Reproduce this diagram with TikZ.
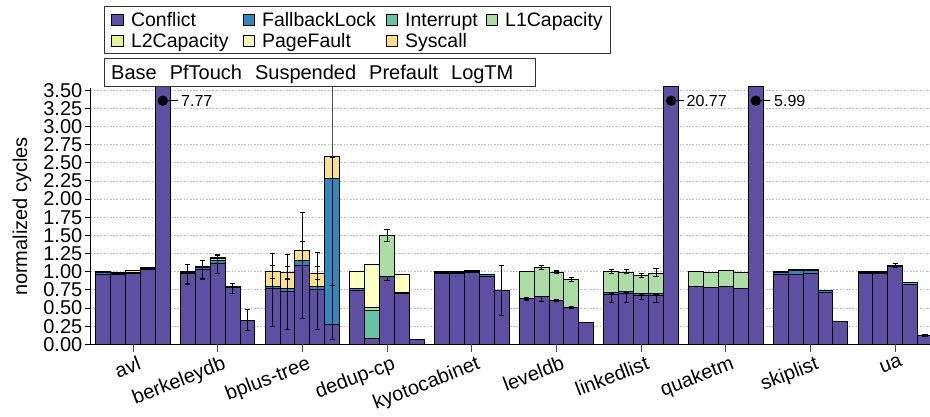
\documentclass[tikz,border=0pt]{standalone}
\usepackage{fontspec}
\setmainfont{Liberation Sans}
\definecolor{cC}{HTML}{5E4FA2}
\definecolor{cF}{HTML}{3288BD}
\definecolor{cI}{HTML}{66C2A5}
\definecolor{cLa}{HTML}{ABDDA4}
\definecolor{cLb}{HTML}{E6F598}
\definecolor{cP}{HTML}{FFFFBF}
\definecolor{cS}{HTML}{FEE08B}
\newcommand\gbar[3]{%
  \pgfmathsetmacro\bxl{95.7+84.7*#1+14.9*#2}%
  \pgfmathsetmacro\bxr{\bxl+14.9}%
  \gdef\stkprev{0}%
  \foreach \bcl/\btp in {#3}{%
    \filldraw[seg,fill=\bcl] (\bxl,\stkprev) rectangle (\bxr,\btp);
    \xdef\stkprev{\btp}%
  }%
}
\newcommand\errb[4]{%
  \pgfmathsetmacro\ex{95.7+84.7*#1+14.9*#2+7.45}%
  \draw[errst] (\ex,#3) -- (\ex,#4) (\ex-2.6,#3) -- (\ex+2.6,#3) (\ex-2.6,#4) -- (\ex+2.6,#4);
}
\begin{document}
\begin{tikzpicture}[x=1pt,y=1pt,font=\fontsize{20}{22}\selectfont,
  seg/.style={draw=black,line width=0.9pt},
  errst/.style={draw=black,line width=1.1pt},
  gridline/.style={gray!55,line width=0.9pt,dash pattern=on 1.6pt off 1.6pt},
  lgbox/.style={draw=black!80,line width=0.9pt},
  lgsq/.style={draw=black,line width=0.8pt},
  lgtxt/.style={anchor=base west,inner sep=0pt},
  valtxt/.style={anchor=west,inner sep=0pt,font=\fontsize{16}{18}\selectfont}]
\clip (0,0) rectangle (930,416);
\fill[white] (0,0) rectangle (930,416);

\begin{scope}[yshift=71.7pt,y=72.6pt]
  \foreach \v in {0.25,0.5,0.75,1,1.25,1.5,1.75,2,2.25,2.5,2.75,3,3.25,3.5}
    \draw[gridline] (90.7,\v) -- (930,\v);

  % avl
  \gbar{0}{0}{cC/0.965,cF/0.985,cS/1.0}
  \gbar{0}{1}{cC/0.965,cF/0.98,cS/0.995}
  \gbar{0}{2}{cC/0.975,cF/0.995,cS/1.015}
  \gbar{0}{3}{cC/1.025,cF/1.04,cS/1.06}
  \gbar{0}{4}{cC/3.55}
  % berkeleydb
  \gbar{1}{0}{cC/0.97,cF/0.99,cS/1.0} \errb{1}{0}{0.83}{1.10}
  \gbar{1}{1}{cC/1.03,cF/1.06,cS/1.07} \errb{1}{1}{0.90}{1.15}
  \gbar{1}{2}{cC/1.115,cF/1.15,cI/1.16,cLa/1.185,cS/1.19} \errb{1}{2}{0.98}{1.23}
  \gbar{1}{3}{cC/0.78,cF/0.79} \errb{1}{3}{0.70}{0.84}
  \gbar{1}{4}{cC/0.335} \errb{1}{4}{0.19}{0.48}
  % bplus-tree
  \gbar{2}{0}{cC/0.766,cF/0.80,cS/1.00} \errb{2}{0}{0.24}{1.09} \errb{2}{0}{0.91}{1.25}
  \gbar{2}{1}{cC/0.73,cF/0.775,cS/0.986} \errb{2}{1}{0.21}{1.07} \errb{2}{1}{0.90}{1.24}
  \gbar{2}{2}{cC/1.08,cF/1.15,cS/1.29} \errb{2}{2}{0.35}{1.82} \errb{2}{2}{1.15}{1.41}
  \gbar{2}{3}{cC/0.75,cF/0.79,cS/0.98} \errb{2}{3}{0.21}{1.07} \errb{2}{3}{0.89}{1.27}
  \gbar{2}{4}{cC/0.28,cF/2.28,cS/2.59} \errb{2}{4}{0.07}{0.81} \errb{2}{4}{0.81}{2.58}
  \pgfmathsetmacro\ex{95.7+84.7*2+14.9*4+7.45}
  \draw[black!70,line width=1pt] (\ex,2.58) -- (\ex,3.55);
  % dedup-cp
  \gbar{3}{0}{cC/0.74,cF/0.775,cP/1.00}
  \gbar{3}{1}{cC/0.083,cI/0.465,cLa/0.51,cP/1.106}
  \gbar{3}{2}{cC/0.93,cLa/1.50} \errb{3}{2}{1.41}{1.58} \errb{3}{2}{0.88}{0.93}
  \gbar{3}{3}{cC/0.705,cF/0.715,cP/0.965}
  \gbar{3}{4}{cC/0.065}
  % kyotocabinet
  \gbar{4}{0}{cC/0.97,cF/0.99,cS/1.0}
  \gbar{4}{1}{cC/0.975,cF/0.99,cS/1.0}
  \gbar{4}{2}{cC/0.99,cF/1.01,cS/1.02}
  \gbar{4}{3}{cC/0.94,cF/0.96,cS/0.968}
  \gbar{4}{4}{cC/0.74} \errb{4}{4}{0.40}{1.08}
  % leveldb
  \gbar{5}{0}{cC/0.634,cLa/1.0} \errb{5}{0}{0.61}{0.64}
  \gbar{5}{1}{cC/0.656,cLa/1.055} \errb{5}{1}{0.59}{0.66} \errb{5}{1}{1.03}{1.08}
  \gbar{5}{2}{cC/0.61,cLa/0.99} \errb{5}{2}{0.59}{0.62} \errb{5}{2}{0.97}{1.01}
  \gbar{5}{3}{cC/0.51,cLa/0.90} \errb{5}{3}{0.49}{0.52} \errb{5}{3}{0.87}{0.92}
  \gbar{5}{4}{cC/0.30}
  % linkedlist
  \gbar{6}{0}{cC/0.68,cF/0.716,cLa/1.0} \errb{6}{0}{0.58}{0.70} \errb{6}{0}{0.97}{1.03}
  \gbar{6}{1}{cC/0.70,cF/0.734,cLa/0.995} \errb{6}{1}{0.57}{0.72} \errb{6}{1}{0.97}{1.03}
  \gbar{6}{2}{cC/0.67,cF/0.70,cLa/0.945} \errb{6}{2}{0.62}{0.69} \errb{6}{2}{0.92}{0.97}
  \gbar{6}{3}{cC/0.67,cF/0.70,cLa/0.97} \errb{6}{3}{0.57}{0.69} \errb{6}{3}{0.94}{1.04}
  \gbar{6}{4}{cC/3.55}
  % quaketm
  \gbar{7}{0}{cC/0.794,cLa/1.0}
  \gbar{7}{1}{cC/0.785,cLa/0.99}
  \gbar{7}{2}{cC/0.80,cLa/1.014}
  \gbar{7}{3}{cC/0.77,cLa/0.987}
  \gbar{7}{4}{cC/3.55}
  % skiplist
  \gbar{8}{0}{cC/0.96,cF/0.99,cS/1.0}
  \gbar{8}{1}{cC/0.964,cF/1.02,cS/1.03}
  \gbar{8}{2}{cC/0.97,cF/1.02,cS/1.03}
  \gbar{8}{3}{cC/0.72,cF/0.735,cS/0.744}
  \gbar{8}{4}{cC/0.317}
  % ua
  \gbar{9}{0}{cC/0.975,cI/0.995,cS/1.0}
  \gbar{9}{1}{cC/0.97,cI/0.995,cS/1.0}
  \gbar{9}{2}{cC/1.07,cI/1.085,cS/1.09} \errb{9}{2}{1.06}{1.11}
  \gbar{9}{3}{cC/0.83,cI/0.85,cS/0.854}
  \gbar{9}{4}{cC/0.118} \errb{9}{4}{0.11}{0.13}

  % value annotations
  \fill (162.8,3.355) circle (5.2pt); \draw[line width=1pt] (162.8,3.355) -- (178,3.355);
  \node[valtxt] (v1) at (181,3.355) {7.77};
  \fill (671.1,3.355) circle (5.2pt); \draw[line width=1pt] (671.1,3.355) -- (684,3.355);
  \node[valtxt] (v2) at (686.5,3.355) {20.77};
  \fill (755.8,3.355) circle (5.2pt); \draw[line width=1pt] (755.8,3.355) -- (770,3.355);
  \node[valtxt] (v3) at (774,3.355) {5.99};

  % axes
  \draw[line width=1.3pt] (90.7,3.53) -- (90.7,0) -- (930,0);
  \foreach \v/\l in {0/0.00,0.25/0.25,0.5/0.50,0.75/0.75,1/1.00,1.25/1.25,1.5/1.50,1.75/1.75,2/2.00,2.25/2.25,2.5/2.50,2.75/2.75,3/3.00,3.25/3.25,3.5/3.50}{
    \draw[line width=1pt] (85,\v) -- (90.7,\v);
    \node[anchor=east,inner sep=0pt] (yl\l) at (82.5,\v) {\l};
  }
  \foreach \g/\nm in {0/avl,1/berkeleydb,2/bplus-tree,3/dedup-cp,4/kyotocabinet,5/leveldb,6/linkedlist,7/quaketm,8/skiplist,9/ua}{
    \pgfmathsetmacro\tx{133+84.7*\g}
    \draw[black!70,line width=1pt] (\tx,0) -- (\tx,-0.11);
    \node[anchor=north east,rotate=21,inner sep=0pt] (xl\g) at (\tx+4,-0.15) {\nm};
  }
  \node[rotate=90] (ylab) at (22,1.76) {normalized cycles};
\end{scope}

% legend 1
\draw[lgbox,fill=white] (104,410) rectangle (610,363);
\begin{scope}[font=\fontsize{19.5}{21}\selectfont]
\foreach \xx/\yy/\cl/\nm/\id in {111.8/396/cC/Conflict/a,242.9/396/cF/FallbackLock/b,386/396/cI/Interrupt/c,486/396/cLa/L1Capacity/d,111.8/375/cLb/L2Capacity/e,242.9/375/cP/PageFault/f,386/375/cS/Syscall/g}{
  \filldraw[lgsq,fill=\cl] (\xx,\yy-5.7) rectangle ++(11.4,11.4);
  \node[lgtxt] (lg\id) at (\xx+19,\yy-7) {\nm};
}
\end{scope}
% legend 2
\draw[lgbox,fill=white] (104,358) rectangle (535,330);
\node[lgtxt] (lg2) at (111,336.8) {Base\hspace{13pt}PfTouch\hspace{13pt}Suspended\hspace{13pt}Prefault\hspace{13pt}LogTM};
\end{tikzpicture}
\end{document}
